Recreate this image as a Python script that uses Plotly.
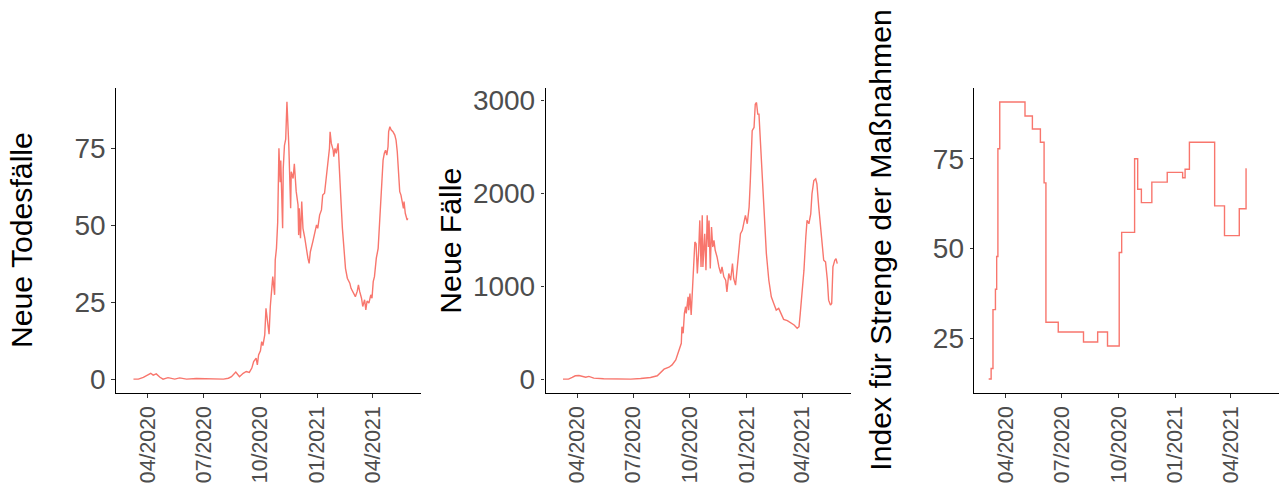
import pandas as pd
import plotly.graph_objects as go

# ---------------- data ----------------
# x values are days after 2020-04-01
BASE_DATE = "2020-04-01"

deaths_day = [-23, -15, -7, 1, 5, 9, 14, 20, 25, 33, 44, 52, 63, 79, 101, 123, 131, 136, 143, 149,
              155, 160, 165, 169, 172, 176, 178, 180, 183, 185, 187, 190, 192, 194, 197, 199, 201, 203,
              206, 207, 209, 211, 213, 215, 216, 217, 219, 220, 222, 224, 225, 226, 229, 230, 232, 233,
              236, 238, 241, 244, 245, 246, 248, 250, 252, 255, 257, 260, 262, 264, 268, 271, 274, 276,
              279, 282, 284, 287, 290, 291, 294, 295, 296, 298, 301, 302, 304, 306, 309, 310, 312, 314,
              316, 318, 321, 324, 328, 330, 333, 337, 340, 342, 344, 347, 349, 352, 354, 356, 359, 362,
              364, 366, 368, 371, 374, 376, 378, 380, 382, 384, 386, 388, 390, 391, 393, 395, 398, 401,
              403, 405, 407, 409, 411, 413, 415, 416, 418, 421, 422]
deaths_val = [0, 0, 0.6, 1.3, 1.9, 1.3, 1.7, 0.6, 0, 0.5, 0, 0.4, 0, 0.2, 0, 0, 0.3, 0.8, 2.3, 0.8,
              1.9, 2.5, 2.2, 3.6, 5.7, 6.8, 4.6, 7.9, 9.2, 12.2, 10.9, 14.4, 23, 19.8, 14.6, 23.6, 29.5, 33.3,
              27.4, 38.7, 42.5, 51, 75, 64, 71, 59.8, 49, 68.5, 76, 78, 83.6, 90.1, 76, 67.4, 55.5, 67.4,
              65.2, 70, 61, 56.6, 46.8, 55.5, 45.8, 57.7, 49, 45.8, 42.5, 39.3, 37.6, 41.4, 44.7, 47.9, 50.1, 49,
              53.3, 55, 59.8, 60.4, 66.8, 68, 72.8, 75, 80.4, 76.6, 74.4, 72.3, 75, 73.4, 76.6, 71.7, 65.2, 56.6,
              49, 42.5, 36, 32.8, 31.2, 29.5, 28.5, 26.8, 28.5, 30.6, 28.5, 26.3, 23.6, 25.8, 22.5, 25.4, 24.7, 27.4,
              26.3, 31.7, 33.3, 39.3, 42.5, 49, 57.7, 65.2, 71.2, 73.4, 74.4, 72.8, 75.5, 80.4, 82, 81, 80.4, 79.3,
              77.7, 73.9, 66.3, 60.9, 59.8, 57.7, 55.5, 57.7, 53.9, 51.7, 52.3]

cases_day = [-23, -14, -8, -3, 3, 8, 14, 19, 27, 43, 65, 87, 103, 119, 130, 135, 141, 149, 154, 160,
             163, 167, 169, 170, 172, 174, 176, 177, 180, 181, 183, 185, 187, 189, 191, 193, 195, 197,
             199, 201, 203, 204, 207, 209, 211, 213, 214, 216, 218, 220, 222, 224, 227, 230, 233, 235,
             238, 241, 243, 246, 249, 252, 254, 257, 260, 262, 265, 268, 270, 273, 276, 279, 281, 284,
             287, 289, 291, 293, 295, 298, 300, 303, 307, 311, 315, 319, 323, 327, 331, 335, 341, 346,
             352, 357, 360, 362, 365, 368, 371, 373, 376, 379, 381, 384, 387, 389, 392, 395, 398, 400,
             403, 406, 408, 411, 413, 415, 418, 420, 422]
cases_val = [0, 0, 18, 36, 39, 29, 21, 29, 11, 4, 0, 0, 7, 18, 36, 64, 107, 128, 153, 207,
             271, 350, 385, 564, 493, 707, 778, 707, 885, 742, 921, 689, 992, 1206, 1474, 1456, 1135, 1349,
             1706, 1206, 1760, 1206, 1563, 1171, 1760, 1420, 1706, 1188, 1635, 1420, 1492, 1385, 1313, 1206, 1135, 1206,
             1099, 1063, 938, 1135, 1063, 1242, 1081, 1010, 1206, 1385, 1563, 1599, 1670, 1760, 1670, 1849, 2134, 2670,
             2705, 2955, 2973, 2848, 2848, 2491, 2134, 1777, 1349, 1063, 885, 814, 742, 760, 707, 642, 628, 607,
             582, 546, 564, 707, 921, 1171, 1528, 1706, 1670, 1777, 1991, 2134, 2152, 2098, 1849, 1635, 1420, 1278,
             1260, 1063, 849, 796, 814, 1206, 1278, 1296, 1242]

stringency_day = [-28, -24, -21, -17, -15, -13, -10, 31, 43, 56, 62, 65, 85, 126, 149, 165, 184, 188,
                  209, 214, 220, 237, 262, 287, 291, 298, 339, 355, 379, 390, 391]
stringency_val = [13.7, 16.6, 33.0, 38.7, 47.8, 77.8, 90.8, 86.9, 83.3, 79.6, 68.3, 29.5, 26.8, 24.0, 26.8,
                  22.9, 48.9, 54.5, 75.0, 66.5, 62.8, 68.5, 71.2, 69.7, 72.1, 79.6, 61.9, 53.6, 61.1, 72.2, 72.2]

tick_dates = ["2020-04-01", "2020-07-01", "2020-10-01", "2021-01-01", "2021-04-01"]
tick_labels = ["04/2020", "07/2020", "10/2020", "01/2021", "04/2021"]

titles = ["Neue Todesfälle", "Neue Fälle", "Index für Strenge der Maßnahmen"]
deaths_ticks = [0, 25, 50, 75]
cases_ticks = [0, 1000, 2000, 3000]
stringency_ticks = [25, 50, 75]

# ---------------- figure ----------------
base = pd.Timestamp(BASE_DATE)


def to_dates(days):
    return [base + pd.Timedelta(days=d) for d in days]


LINE_COLOR = "#F8766D"
FONT = "Liberation Sans, Arial, sans-serif"
W, H = 1279, 486

fig = go.Figure()
fig.add_trace(go.Scatter(x=to_dates(deaths_day), y=deaths_val, mode="lines",
                         line=dict(color=LINE_COLOR, width=1.4), xaxis="x", yaxis="y"))
fig.add_trace(go.Scatter(x=to_dates(cases_day), y=cases_val, mode="lines",
                         line=dict(color=LINE_COLOR, width=1.4), xaxis="x2", yaxis="y2"))
fig.add_trace(go.Scatter(x=to_dates(stringency_day), y=stringency_val, mode="lines",
                         line=dict(color=LINE_COLOR, width=1.4, shape="hv"), xaxis="x3", yaxis="y3"))

x_range = ["2020-02-09 16:00", "2021-06-18 12:00"]
y_dom = [(H - 393) / H, (H - 88) / H]
x_doms = [[116 / W, 421 / W], [545.5 / W, 850.5 / W], [974.3 / W, 1.0]]


def xaxis(dom, anchor):
    return dict(domain=dom, anchor=anchor, range=x_range, tickvals=tick_dates, ticktext=tick_labels,
                tickangle=-90, tickfont=dict(family=FONT, size=21.3, color="#4D4D4D"),
                ticks="outside", ticklen=3.5, tickwidth=1, tickcolor="#333333",
                showline=True, linecolor="black", linewidth=1.4, showgrid=False, zeroline=False,
                automargin=False, fixedrange=True)


def yaxis(rng, ticks, anchor):
    return dict(domain=y_dom, anchor=anchor, range=rng, tickvals=ticks,
                tickfont=dict(family=FONT, size=28, color="#4D4D4D"),
                ticks="outside", ticklen=3.5, tickwidth=1, tickcolor="#333333",
                showline=True, linecolor="black", linewidth=1.4, showgrid=False, zeroline=False,
                automargin=False, fixedrange=True)


title_x = [21.7 / W, 450.3 / W, 880.3 / W]
annotations = [dict(text=t, x=tx, y=(H - 240.4) / H, xref="paper", yref="paper", textangle=-90,
                    showarrow=False, xanchor="center", yanchor="middle",
                    font=dict(family=FONT, size=30.2, color="black"))
               for t, tx in zip(titles, title_x)]

fig.update_layout(
    width=W, height=H, margin=dict(l=0, r=0, t=0, b=0),
    paper_bgcolor="white", plot_bgcolor="white", showlegend=False,
    xaxis=xaxis(x_doms[0], "y"), xaxis2=xaxis(x_doms[1], "y2"), xaxis3=xaxis(x_doms[2], "y3"),
    yaxis=yaxis([-4.5, 94.6], deaths_ticks, "x"),
    yaxis2=yaxis([-149, 3129], cases_ticks, "x2"),
    yaxis3=yaxis([9.8, 94.7], stringency_ticks, "x3"),
    annotations=annotations,
)

fig.write_html("out.html")
